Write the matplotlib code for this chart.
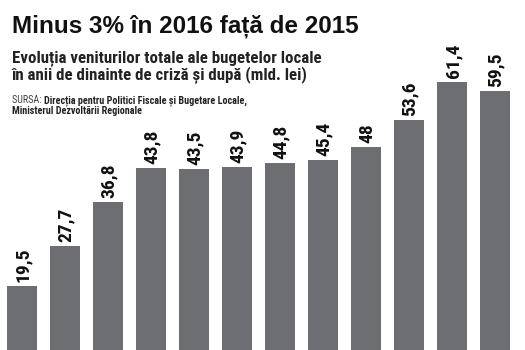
import matplotlib.pyplot as plt
from matplotlib import font_manager

# venituri totale ale bugetelor locale, mld. lei (ani fara eticheta in original)
values = [19.5, 27.7, 36.8, 43.8, 43.5, 43.9, 44.8, 45.4, 48, 53.6, 61.4, 59.5]
labels = ['19,5', '27,7', '36,8', '43,8', '43,5', '43,9', '44,8', '45,4', '48', '53,6', '61,4', '59,5']

title = 'Minus 3% în 2016 față de 2015'
subtitle = ['Evoluția veniturilor totale ale bugetelor locale',
            'în anii de dinainte de criză și după (mld. lei)']
source = ['Direcția pentru Politici Fiscale și Bugetare Locale,',
          'Ministerul Dezvoltării Regionale']

bar_color = '#6d6e71'


def pick(names):
    for n in names:
        try:
            font_manager.findfont(n, fallback_to_default=False)
            return n
        except Exception:
            pass
    return 'DejaVu Sans'


narrow = pick(['Liberation Sans Narrow', 'Roboto Condensed', 'Open Sans Condensed'])
wide = pick(['Liberation Sans', 'Arial'])

W, H = 525, 350
fig = plt.figure(figsize=(W / 100, H / 100), dpi=100)
ax = fig.add_axes([0, 0, 1, 1])

x = list(range(len(values)))
ax.bar(x, values, width=0.70, color=bar_color)
ax.set_xlim(-0.512, 11.70)
ax.set_ylim(6.5, 6.5 + H / 4.89)
ax.axis('off')

for xi, v, lab in zip(x, values, labels):
    ax.annotate(lab, (xi, v), xytext=(1, 4), textcoords='offset pixels',
                rotation=90, ha='center', va='bottom',
                fontsize=14, fontweight='bold', family=[narrow, 'DejaVu Sans'],
                color='#111111')


def ftext(px, py, s, **kw):
    fig.text(px / W, 1 - py / H, s, va='baseline', ha='left', **kw)


ftext(12, 33, title, fontsize=17.5, fontweight='bold', family=[wide, 'DejaVu Sans'], color='#111111')
ftext(12, 62, subtitle[0], fontsize=12.2, fontweight='bold', family=[narrow, 'DejaVu Sans'], color='#222222')
ftext(12, 80, subtitle[1], fontsize=12.2, fontweight='bold', family=[narrow, 'DejaVu Sans'], color='#222222')
t = fig.text(12 / W, 1 - 103 / H, 'SURSA: ', va='baseline', ha='left', fontsize=7.3,
             family=[narrow, 'DejaVu Sans'], color='#444444')
fig.canvas.draw()
bb = t.get_window_extent()
ftext(bb.x1, 103, source[0], fontsize=7.3, fontweight='bold', family=[narrow, 'DejaVu Sans'], color='#222222')
ftext(12, 114, source[1], fontsize=7.3, fontweight='bold', family=[narrow, 'DejaVu Sans'], color='#222222')

fig.savefig('out.png', dpi=100)
